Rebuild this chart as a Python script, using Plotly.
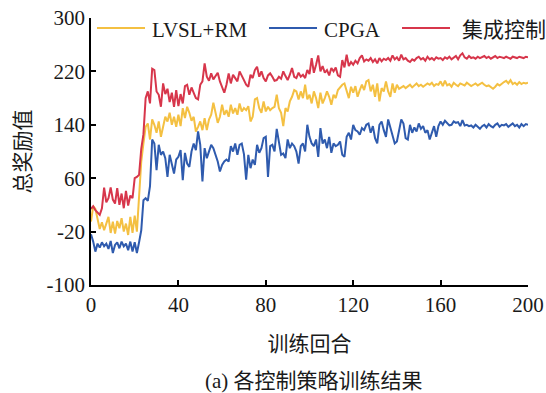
import plotly.graph_objects as go

episodes = list(range(201))

red_ensemble = [
    14, 18, 12, 8, 5, 15, 46, 24, 30, 46,
    28, 22, 45, 20, 37, 15, 41, 19, 34, 30,
    60, 62, 65, 104, 126, 180, 190, 172, 224, 222,
    190, 185, 167, 202, 186, 194, 174, 188, 167, 192,
    168, 186, 172, 198, 200, 185, 196, 188, 180, 178,
    200, 205, 232, 212, 206, 217, 208, 213, 218, 205,
    196, 188, 200, 217, 202, 215, 210, 205, 220, 212,
    207, 200, 197, 215, 210, 222, 227, 212, 220, 210,
    205, 214, 217, 212, 206, 207, 212, 209, 220, 213,
    207, 215, 225, 212, 210, 218, 212, 215, 210, 222,
    216, 240, 218, 230, 244, 220, 228, 218, 222, 214,
    225, 220, 226, 214, 212, 237, 226, 245, 228, 234,
    230, 236, 232, 240, 244, 235, 238, 236, 240, 234,
    238, 232, 240, 235, 239, 237, 240, 236, 244, 238,
    241, 236, 245, 238, 240, 236, 234, 238, 236, 240,
    242, 238, 240, 236, 242, 238, 240, 237, 241, 239,
    240, 237, 241, 239, 242, 238, 240, 243, 238, 244,
    247, 241, 239, 243, 240, 241, 239, 242, 240, 241,
    243, 240, 242, 239, 241, 243, 240, 242, 241, 240,
    242, 241, 239, 242, 241, 240, 242, 241, 240, 242, 241,
]

yellow_lvsl = [
    -5, 18, 14, 0, -16, -6, -18, -8, 2, -22,
    -5, -23, -4, -15, 0, -20, -8, -25, 2, -22,
    4, -20, 30, 85, 112, 137, 142, 118, 148, 140,
    128, 145, 122, 140, 152, 145, 158, 140, 152, 137,
    155, 138, 165, 150, 167, 158, 146, 152, 130, 137,
    145, 132, 150, 132, 148, 155, 173, 158, 143, 152,
    170, 155, 162, 152, 170, 157, 165, 155, 172, 160,
    165, 162, 168, 145, 152, 178, 180, 165, 158, 175,
    160, 167, 162, 165, 167, 185, 165, 158, 138, 165,
    160, 175, 182, 192, 190, 178, 190, 180, 200, 178,
    185, 172, 190, 180, 165, 188, 172, 180, 190, 182,
    170, 185, 180, 192, 196, 200, 202, 190, 180, 197,
    188, 198, 182, 192, 200, 192, 205, 207, 190, 200,
    182, 202, 175, 195, 190, 205, 190, 182, 202, 188,
    200, 194, 196, 198, 195, 197, 200, 196, 199, 202,
    198, 200, 197, 199, 202, 200, 203, 198, 201, 200,
    205, 198, 206, 199, 201, 197, 203, 200, 198, 202,
    200, 199, 203, 201, 198, 200, 202, 199, 201, 203,
    200, 198, 199, 196, 194, 197, 201, 199, 202, 204,
    206, 202, 207, 201, 203, 200, 204, 201, 203, 202, 203,
]

blue_cpga = [
    -24, -35, -50, -38, -44, -36, -42, -38, -46, -34,
    -52, -40, -36, -45, -35, -42, -38, -48, -35, -50,
    -36, -52, -36, -18, 27, 30, 26, 48, 118, 112,
    72, 110, 95, 100, 90, 62, 95, 78, 67, 88,
    92, 102, 57, 98, 82, 77, 100, 112, 102, 130,
    110, 55, 105, 90, 100, 110, 105, 95, 85, 70,
    80, 85, 88, 85, 108, 100, 112, 95, 110, 112,
    96, 58, 95, 75, 88, 80, 110, 98, 105, 120,
    122, 62, 108, 110, 100, 134, 115, 95, 97, 90,
    118, 105, 112, 108, 100, 82, 108, 112, 100, 140,
    122, 112, 108, 118, 92, 135, 112, 118, 105, 122,
    98, 112, 108, 110, 115, 95, 92, 122, 128, 118,
    140, 132, 130, 125, 135, 132, 140, 142, 128, 138,
    120, 112, 140, 145, 132, 122, 148, 137, 125, 112,
    115, 130, 148, 142, 120, 118, 140, 128, 136, 130,
    142, 134, 138, 128, 132, 118, 130, 138, 122, 138,
    145, 140, 146, 142, 139, 140, 145, 143, 144, 138,
    147, 139, 140, 138, 139, 136, 140, 137, 134, 138,
    140, 136, 141, 138, 136, 140, 142, 137, 140, 139,
    141, 137, 140, 142, 138, 140, 136, 141, 138, 141, 140,
]

series_names = ["LVSL+RM", "CPGA", "集成控制"]
series_colors = ["#F4C042", "#2F5BAE", "#D7364B"]
x_ticks = [0, 40, 80, 120, 160, 200]
y_ticks = [-100, -20, 60, 140, 220, 300]
y_tick_labels = ["-100", "-20", "60", "140", "220", "300"]

FONT = "Liberation Serif, Times New Roman, Noto Sans CJK SC"

fig = go.Figure()
for name, color, vals in zip(series_names, series_colors, [yellow_lvsl, blue_cpga, red_ensemble]):
    fig.add_trace(go.Scatter(x=episodes, y=vals, mode="lines", name=name,
                             line=dict(color=color, width=2)))

# manual legend (line sample + label) positioned like the reference
legend_pos = [(0.0137, 0.1236, 0.135), (0.4073, 0.5172, 0.5286), (0.7117, 0.8215, 0.8444)]
for (x0, x1, xt), name, color in zip(legend_pos, series_names, series_colors):
    fig.add_shape(type="line", xref="paper", yref="paper", x0=x0, x1=x1, y0=0.9625, y1=0.9625,
                  line=dict(color=color, width=2))
    fig.add_annotation(xref="paper", yref="paper", x=xt, y=0.955, text=name, showarrow=False,
                       xanchor="left", yanchor="middle", font=dict(family=FONT, size=21, color="#1a1a1a"))

fig.add_annotation(xref="paper", yref="paper", x=0.51, y=-0.36, text="(a) 各控制策略训练结果",
                   showarrow=False, xanchor="center", yanchor="middle",
                   font=dict(family=FONT, size=21, color="#1a1a1a"))

fig.update_layout(
    width=546, height=393,
    margin=dict(l=91, r=18, t=18, b=108),
    plot_bgcolor="white", paper_bgcolor="white",
    showlegend=False,
    font=dict(family=FONT, size=21, color="#1a1a1a"),
)
fig.update_xaxes(range=[0, 200], tickvals=x_ticks, ticks="inside", ticklen=5, tickwidth=1.5,
                 tickcolor="black", showline=True, linewidth=1.5, linecolor="black",
                 showgrid=False, zeroline=False, automargin=False, ticklabeloverflow="allow",
                 title=dict(text="训练回合", standoff=20, font=dict(family=FONT, size=21)))
fig.update_yaxes(range=[-100, 300], tickvals=y_ticks, ticktext=y_tick_labels, ticks="inside",
                 ticklen=5, tickwidth=1.5, ticklabeloverflow="allow",
                 tickcolor="black", showline=True, linewidth=1.5, linecolor="black",
                 showgrid=False, zeroline=False, automargin=False,
                 title=dict(text="总奖励值", standoff=10, font=dict(family=FONT, size=21)))

# remove the default 8px page margin so the figure fills the window exactly
fig.write_html("out.html",
               config={"displayModeBar": False},
               post_script="document.body.style.margin='0';document.body.style.overflow='hidden';")
